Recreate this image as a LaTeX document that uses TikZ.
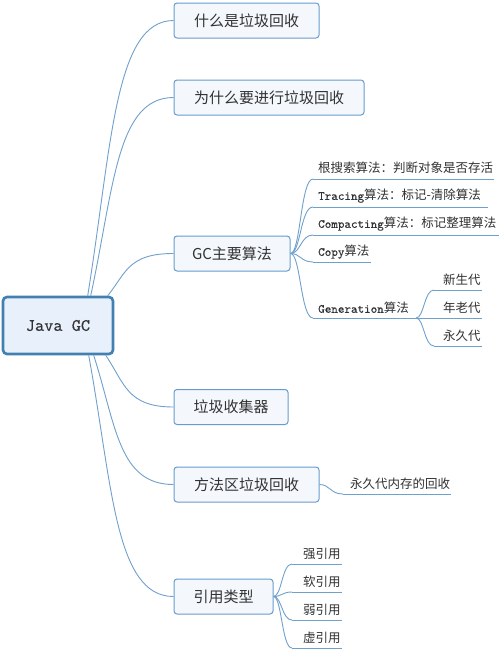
\documentclass[tikz,border=0pt]{standalone}
\usepackage{fontspec}
\setmainfont{Noto Sans CJK SC}
\newfontfamily\monof{lmmono10-regular.otf}[FakeBold=0.3]
\usetikzlibrary{calc}
\definecolor{lnc}{RGB}{112,160,204}
\definecolor{bdc}{RGB}{104,156,206}
\definecolor{bfill}{RGB}{244,248,253}
\definecolor{rbd}{RGB}{66,128,178}
\definecolor{rfill}{RGB}{232,241,251}
\definecolor{txt}{RGB}{50,50,50}
\newcommand\rootlink[2]{\draw[conn] let \p1=(#1), \p2=(#2.west) in (\p1) .. controls ({\x1+0.28*(\x2-\x1)},{\y1+0.54*(\y2-\y1)}) and ({\x1+0.31*(\x2-\x1)},\y2) .. (\p2);}
\newcommand\brlink[2]{\draw[conn] let \p1=(#1), \p2=(#2) in (\p1) .. controls ({\x1+0.45*(\x2-\x1)},\y1) and ({\x1+0.45*(\x2-\x1)},\y2) .. (\p2);}
\begin{document}
\begin{tikzpicture}[x=1pt,y=-1pt,
  topbox/.style={draw=bdc, fill=bfill, line width=1pt, rounded corners=3pt, inner sep=0pt, text=txt, font=\fontsize{15}{18}\selectfont, minimum height=35pt},
  rootbox/.style={draw=rbd, fill=rfill, line width=2.6pt, rounded corners=4pt, minimum width=110pt, minimum height=57pt, inner sep=0pt, text=txt, font=\monof\fontsize{17.5}{20}\selectfont},
  leaf/.style={anchor=west, inner sep=0pt, text=txt, font=\fontsize{12.5}{15}\selectfont},
  conn/.style={draw=lnc, line width=0.9pt}]
\useasboundingbox (0,0) rectangle (500,651);
\fill[white] (0,0) rectangle (500,651);

% root and main topics
\node[rootbox] (root) at (58,325.5) {Java GC};
\node[topbox, minimum width=145pt] (b1) at (246.5,20.5) {什么是垃圾回收};
\node[topbox, minimum width=190pt] (b2) at (269,97.5) {为什么要进行垃圾回收};
\node[topbox, minimum width=116pt] (b3) at (232,253.5) {GC主要算法};
\node[topbox, minimum width=114pt] (b4) at (231,407) {垃圾收集器};
\node[topbox, minimum width=145pt] (b5) at (246.5,484.5) {方法区垃圾回收};
\node[topbox, minimum width=99pt] (b6) at (223.5,596.5) {引用类型};

% root connectors
\rootlink{[xshift=86pt]root.north west}{b1}
\rootlink{[xshift=89pt]root.north west}{b2}
\rootlink{[xshift=106pt]root.north west}{b3}
\rootlink{[xshift=104pt]root.south west}{b4}
\rootlink{[xshift=92pt]root.south west}{b5}
\rootlink{[xshift=87pt]root.south west}{b6}

% GC algorithms
\coordinate (c1s) at (313,179); \coordinate (c1e) at (494,179);
\coordinate (c2s) at (313,207); \coordinate (c2e) at (488,207);
\coordinate (c3s) at (313,235); \coordinate (c3e) at (499,235);
\coordinate (c4s) at (313,262); \coordinate (c4e) at (371,262);
\coordinate (c5s) at (313,318); \coordinate (c5e) at (416,318);
\node[leaf] (t1) at (318,168) {根搜索算法：判断对象是否存活};
\node[leaf] (t2) at (318,196) {{\monof Tracing}算法：标记-清除算法};
\node[leaf] (t3) at (318,224) {{\monof Compacting}算法：标记整理算法};
\node[leaf] (t4) at (318,252) {{\monof Copy}算法};
\node[leaf] (t5) at (318,308) {{\monof Generation}算法};
\foreach \i in {1,...,5}{\brlink{b3.east}{c\i s}\draw[conn] (c\i s) -- (c\i e);}

% generations
\coordinate (g1s) at (434,290); \coordinate (g1e) at (482,290);
\coordinate (g2e) at (482,318);
\coordinate (g3s) at (434,346); \coordinate (g3e) at (482,346);
\node[leaf] (n1) at (443,280) {新生代};
\node[leaf] (n2) at (443,308) {年老代};
\node[leaf] (n3) at (443,336) {永久代};
\brlink{c5e}{g1s}\draw[conn] (g1s) -- (g1e);
\draw[conn] (c5e) -- (g2e);
\brlink{c5e}{g3s}\draw[conn] (g3s) -- (g3e);

% method area
\coordinate (m1s) at (343,494); \coordinate (m1e) at (451,494);
\node[leaf] (mt) at (350,484) {永久代内存的回收};
\brlink{b5.east}{m1s}\draw[conn] (m1s) -- (m1e);

% reference types
\coordinate (r1s) at (292,564); \coordinate (r1e) at (342,564);
\coordinate (r2s) at (292,592); \coordinate (r2e) at (342,592);
\coordinate (r3s) at (292,620); \coordinate (r3e) at (342,620);
\coordinate (r4s) at (292,648); \coordinate (r4e) at (342,648);
\node[leaf] (s1) at (303,554) {强引用};
\node[leaf] (s2) at (303,582) {软引用};
\node[leaf] (s3) at (303,610) {弱引用};
\node[leaf] (s4) at (303,638) {虚引用};
\foreach \i in {1,...,4}{\brlink{b6.east}{r\i s}\draw[conn] (r\i s) -- (r\i e);}
\end{tikzpicture}
\end{document}
